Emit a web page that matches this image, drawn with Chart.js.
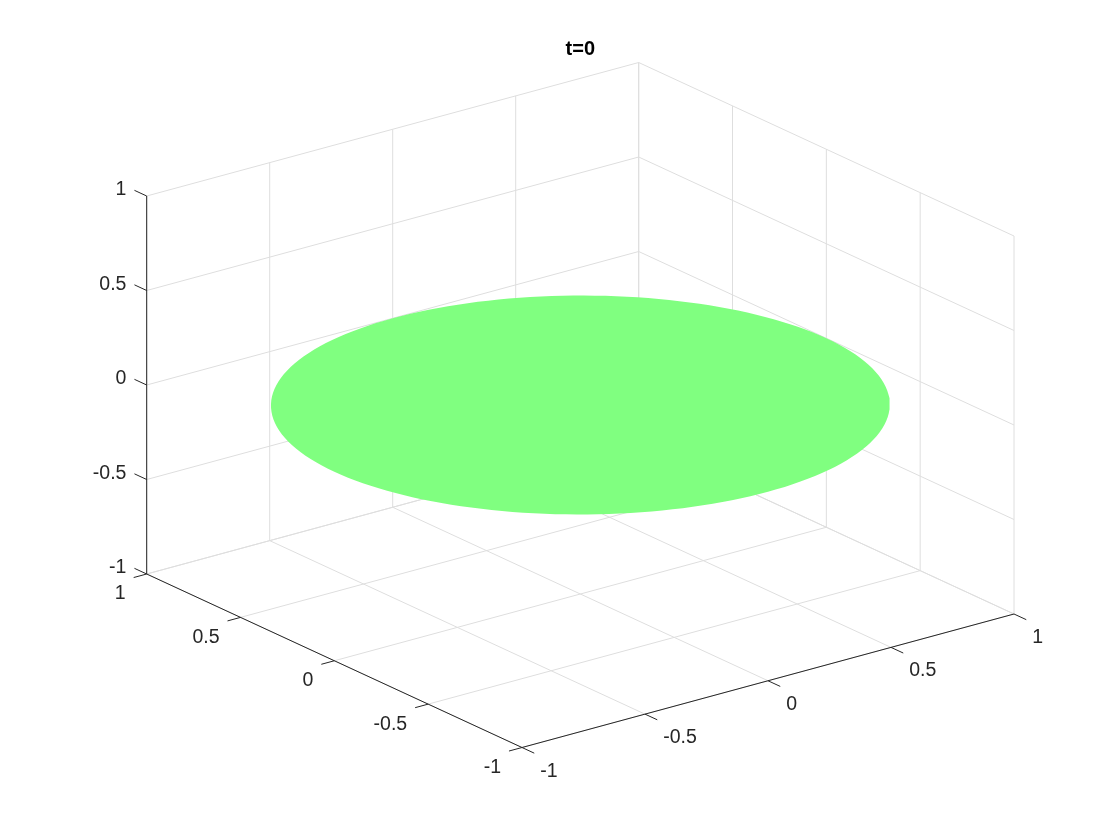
<!DOCTYPE html>
<html>
<head>
<meta charset="utf-8">
<script src="https://cdn.jsdelivr.net/npm/chart.js@4/dist/chart.umd.min.js"></script>
<style>
  html, body { margin: 0; padding: 0; background: #ffffff; }
  #wrap { width: 1120px; height: 840px; position: relative; }
</style>
</head>
<body>
<div id="wrap"><canvas id="c" width="1120" height="840"></canvas></div>
<script>
// ---- data ----
const TITLE = 't=0';
const X_TICKS = [-1, -0.5, 0, 0.5, 1];
const Y_TICKS = [-1, -0.5, 0, 0.5, 1];
const Z_TICKS = [-1, -0.5, 0, 0.5, 1];
const X_TICK_LABELS = ['-1', '-0.5', '0', '0.5', '1'];
const Y_TICK_LABELS = ['-1', '-0.5', '0', '0.5', '1'];
const Z_TICK_LABELS = ['-1', '-0.5', '0', '0.5', '1'];
const X_LIMITS = [-1, 1];
const Y_LIMITS = [-1, 1];
const Z_LIMITS = [-1, 1];
const DISK_RADIUS = [1];
const DISK_HEIGHT = [0];

// ---- view / layout (projection of the 3-D box onto the page) ----
const ORIGIN = [580.35, 405];
const EX = [246, -66.75];
const EY = [-187.65, -86.75];
const EZ = [0, -189];
const GRID_COLOR = '#dedede';
const AXIS_COLOR = '#262626';
const DISK_COLOR = '#80ff80';
const FONT = '"Liberation Sans", Arial, Helvetica, sans-serif';

function P(x, y, z) {
  return {
    x: ORIGIN[0] + x * EX[0] + y * EY[0] + z * EZ[0],
    y: ORIGIN[1] + x * EX[1] + y * EY[1] + z * EZ[1]
  };
}
function unit(v) { const l = Math.hypot(v[0], v[1]); return [v[0] / l, v[1] / l]; }
function off(p, dir, len) { return { x: p.x + dir[0] * len, y: p.y + dir[1] * len }; }

const [x0, x1] = X_LIMITS, [y0, y1] = Y_LIMITS, [z0, z1] = Z_LIMITS;
const datasets = [];
function seg(a, b, color, order) {
  datasets.push({ data: [a, b], borderColor: color, borderWidth: 1, pointRadius: 0,
    pointHitRadius: 0, fill: false, tension: 0, order: order });
}

// grid lines: floor (z = zmin), back wall (y = ymax), side wall (x = xmax)
X_TICKS.forEach(t => seg(P(t, y0, z0), P(t, y1, z0), GRID_COLOR, 3));
Y_TICKS.forEach(t => seg(P(x0, t, z0), P(x1, t, z0), GRID_COLOR, 3));
X_TICKS.forEach(t => seg(P(t, y1, z0), P(t, y1, z1), GRID_COLOR, 3));
Z_TICKS.forEach(t => seg(P(x0, y1, t), P(x1, y1, t), GRID_COLOR, 3));
Y_TICKS.forEach(t => seg(P(x1, t, z0), P(x1, t, z1), GRID_COLOR, 3));
Z_TICKS.forEach(t => seg(P(x1, y0, t), P(x1, y1, t), GRID_COLOR, 3));

// disk surface
const diskPts = [];
for (let a = 0; a <= 360; a += 2) {
  const r = a * Math.PI / 180;
  diskPts.push(P(DISK_RADIUS[0] * Math.cos(r), DISK_RADIUS[0] * Math.sin(r), DISK_HEIGHT[0]));
}
datasets.push({ data: diskPts, borderColor: DISK_COLOR, borderWidth: 0, backgroundColor: DISK_COLOR,
  fill: 'shape', pointRadius: 0, pointHitRadius: 0, tension: 0, order: 2 });

// axis lines
seg(P(x0, y1, z0), P(x0, y1, z1), AXIS_COLOR, 1);   // z axis
seg(P(x0, y0, z0), P(x0, y1, z0), AXIS_COLOR, 1);   // y axis
seg(P(x0, y0, z0), P(x1, y0, z0), AXIS_COLOR, 1);   // x axis

// ticks
const TICK_LEN = 13.5;
const dirZ = unit(EY);                       // z ticks point along +y
const dirY = unit([-EX[0], -EX[1]]);         // y ticks point along -x
const dirX = unit([-EY[0], -EY[1]]);         // x ticks point along -y
const labelSpots = [];
Z_TICKS.forEach((t, i) => {
  const p = P(x0, y1, t), e = off(p, dirZ, TICK_LEN);
  seg(p, e, AXIS_COLOR, 1);
  labelSpots.push({ text: Z_TICK_LABELS[i], x: e.x - 8, y: e.y - 0.5, align: 'right' });
});
Y_TICKS.forEach((t, i) => {
  const p = P(x0, t, z0), e = off(p, dirY, TICK_LEN);
  seg(p, e, AXIS_COLOR, 1);
  labelSpots.push({ text: Y_TICK_LABELS[i], x: e.x - 8, y: e.y + 16.5, align: 'right' });
});
X_TICKS.forEach((t, i) => {
  const p = P(t, y0, z0), e = off(p, dirX, TICK_LEN);
  seg(p, e, AXIS_COLOR, 1);
  labelSpots.push({ text: X_TICK_LABELS[i], x: e.x + 6, y: e.y + 18, align: 'left' });
});

const labelPlugin = {
  id: 'labels3d',
  afterDraw(chart) {
    const ctx = chart.ctx, sx = chart.scales.x, sy = chart.scales.y;
    ctx.save();
    ctx.fillStyle = AXIS_COLOR;
    ctx.font = '19.5px ' + FONT;
    ctx.textBaseline = 'middle';
    labelSpots.forEach(l => {
      ctx.textAlign = l.align;
      ctx.fillText(l.text, sx.getPixelForValue(l.x), sy.getPixelForValue(l.y));
    });
    ctx.fillStyle = '#000000';
    ctx.font = 'bold 20px ' + FONT;
    ctx.textAlign = 'center';
    ctx.fillText(TITLE, sx.getPixelForValue(ORIGIN[0]), sy.getPixelForValue(49.5));
    ctx.restore();
  }
};

new Chart(document.getElementById('c'), {
  type: 'line',
  data: { datasets },
  options: {
    responsive: false,
    animation: false,
    events: [],
    layout: { padding: 0 },
    scales: {
      x: { type: 'linear', min: 0, max: 1120, display: false },
      y: { type: 'linear', min: 0, max: 840, reverse: true, display: false }
    },
    plugins: { legend: { display: false }, tooltip: { enabled: false }, title: { display: false } }
  },
  plugins: [labelPlugin]
});
</script>
</body>
</html>
